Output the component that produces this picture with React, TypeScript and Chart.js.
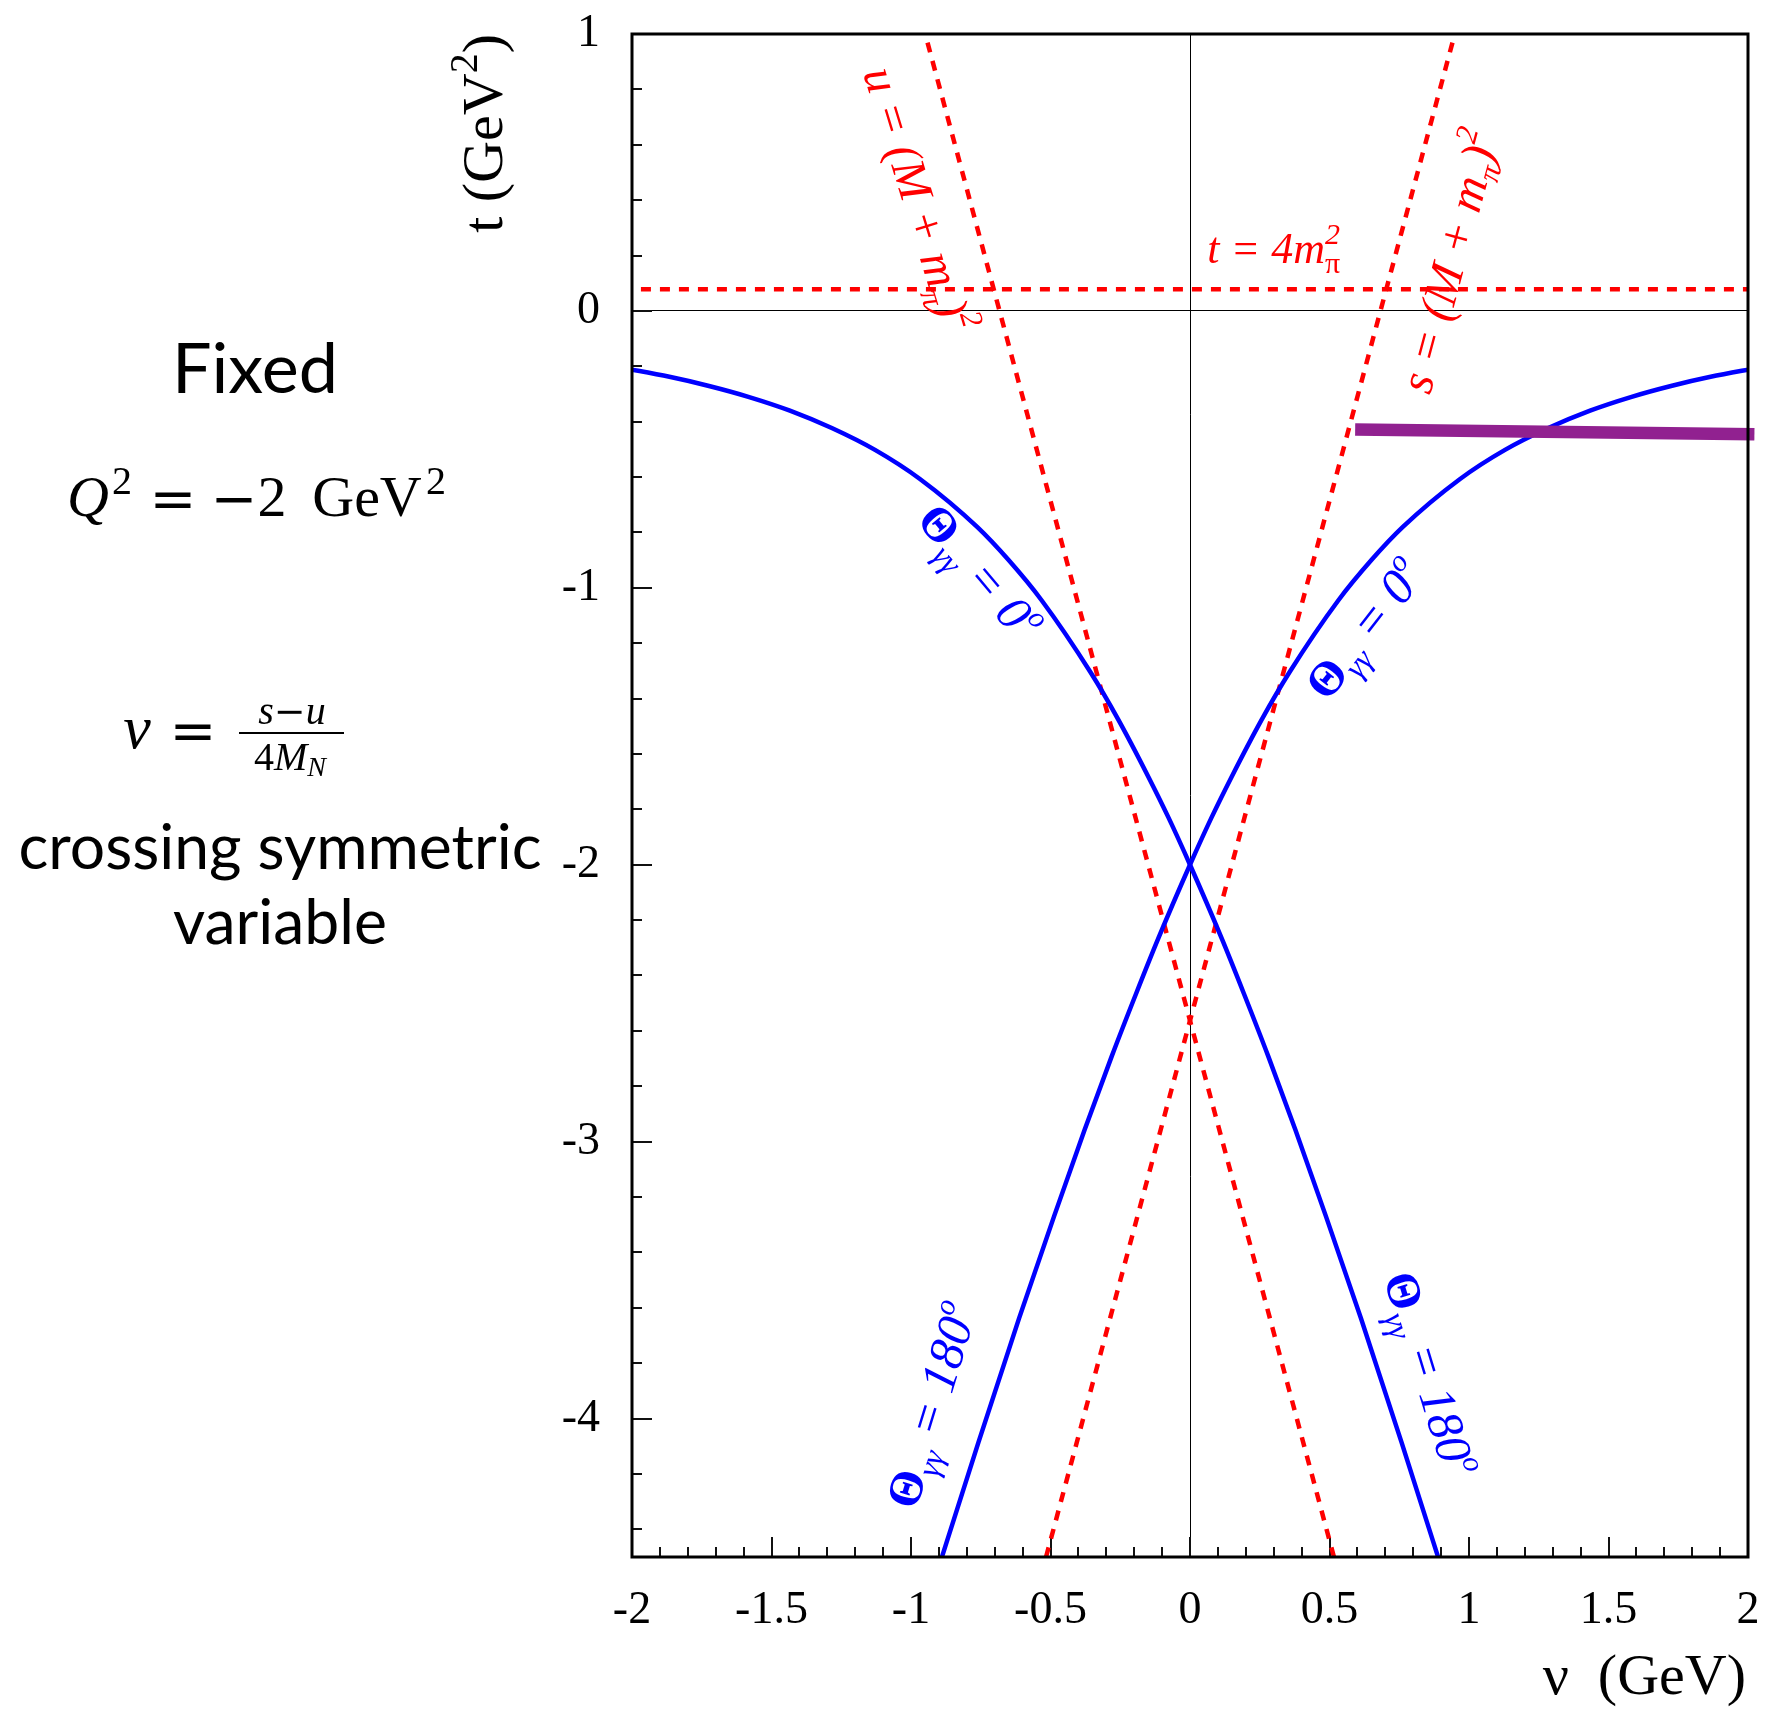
import { useEffect, useRef } from 'react';
import { Chart, registerables } from 'chart.js';

Chart.register(...registerables);

// ---------- data (ν in GeV, t in GeV²) ----------
// boundary curve running from lower-left to upper-right (Θγγ = 180° below, 0° above)
const curveA_nu = [-0.931, -0.758, -0.613, -0.487, -0.378, -0.281, -0.193, -0.114, 0, 0.077, 0.149, 0.257, 0.356, 0.532, 0.651, 0.762, 0.968, 1.129, 1.284, 1.434, 1.58, 1.724, 1.866, 2.034];
const curveA_t = [-4.633, -4.085, -3.639, -3.269, -2.958, -2.693, -2.465, -2.267, -2.0, -1.83, -1.683, -1.476, -1.306, -1.045, -0.899, -0.781, -0.607, -0.502, -0.423, -0.36, -0.311, -0.271, -0.238, -0.206];
// boundary curve running from upper-left to lower-right
const curveB_nu = [-2.034, -1.866, -1.724, -1.58, -1.434, -1.284, -1.129, -0.968, -0.762, -0.651, -0.532, -0.356, -0.257, -0.149, -0.077, 0, 0.114, 0.193, 0.281, 0.378, 0.487, 0.613, 0.758, 0.931];
const curveB_t = [-0.206, -0.238, -0.271, -0.311, -0.36, -0.423, -0.502, -0.607, -0.781, -0.899, -1.045, -1.306, -1.476, -1.683, -1.83, -2.0, -2.267, -2.465, -2.693, -2.958, -3.269, -3.639, -4.085, -4.633];
// thresholds
const sLine_nu = [-0.516, 0.949];
const sLine_t = [-4.5, 1.0];
const uLine_nu = [0.516, -0.949];
const uLine_t = [-4.5, 1.0];
const tThr_nu = [-1.968, 2.0];
const tThr_t = [0.078, 0.078];
// purple bar
const band_nu = [0.592, 2.023];
const band_t = [-0.428, -0.445];

// ticks
const xTickValues = [-2, -1.5, -1, -0.5, 0, 0.5, 1, 1.5, 2];
const xTickLabels = ['-2', '-1.5', '-1', '-0.5', '0', '0.5', '1', '1.5', '2'];
const yTickValues = [-4, -3, -2, -1, 0, 1];
const yTickLabels = ['-4', '-3', '-2', '-1', '0', '1'];

const xTitle = 'ν  (GeV)';

// ---------- styles ----------
const SERIF = "'Liberation Serif', 'Times New Roman', serif";
const WIDE = "'DejaVu Serif', serif";
const SANS = "Lato, 'Noto Sans', sans-serif";
const RED = '#ff0000';
const BLUE = '#0000ff';
const PURPLE = '#912190';

const pts = (xs: number[], ys: number[]) => xs.map((x, i) => ({ x, y: ys[i] }));

type Run = { t: string; f: string; dy?: number; adv?: boolean };

function drawRuns(
  ctx: CanvasRenderingContext2D,
  runs: Run[],
  x: number,
  y: number,
  angleDeg: number,
  align: 'left' | 'center' | 'right',
  color: string,
  baseShift = 0
) {
  ctx.save();
  ctx.translate(x, y);
  ctx.rotate((angleDeg * Math.PI) / 180);
  ctx.fillStyle = color;
  ctx.textAlign = 'left';
  ctx.textBaseline = 'alphabetic';
  const widths = runs.map((r) => {
    ctx.font = r.f;
    return ctx.measureText(r.t).width;
  });
  let total = 0;
  runs.forEach((r, i) => {
    if (r.adv !== false) total += widths[i];
  });
  let cx = align === 'left' ? 0 : align === 'center' ? -total / 2 : -total;
  runs.forEach((r, i) => {
    ctx.font = r.f;
    ctx.fillText(r.t, cx, baseShift + (r.dy || 0));
    if (r.adv !== false) cx += widths[i];
  });
  ctx.restore();
}

function fitText(ctx: CanvasRenderingContext2D, text: string, family: string, width: number) {
  ctx.font = `100px ${family}`;
  const w = ctx.measureText(text).width;
  return (100 * width) / w;
}

const thetaRuns = (val: string): Run[] => [
  { t: 'Θ', f: `bold 48px ${SERIF}` },
  { t: 'γγ', f: `italic 32px ${SERIF}`, dy: 11 },
  { t: ` = ${val}`, f: `italic 50px ${SERIF}` },
  { t: 'o', f: `italic 30px ${SERIF}`, dy: -22 },
];

const thresholdRuns = (lhs: string): Run[] => [
  { t: `${lhs} = (M + m`, f: `italic 48px ${SERIF}` },
  { t: 'π', f: `italic 31px ${SERIF}`, dy: 10 },
  { t: ')', f: `italic 48px ${SERIF}` },
  { t: '2', f: `italic 31px ${SERIF}`, dy: -22 },
];

const annotations = {
  id: 'annotations',
  beforeDatasetsDraw(chart: any) {
    const { ctx, chartArea: a, scales } = chart;
    const xs = scales.x;
    const ys = scales.y;
    ctx.save();
    ctx.strokeStyle = '#111';
    ctx.lineWidth = 2;
    ctx.beginPath();
    for (let k = -22; k <= 4; k++) {
      const py = Math.round(ys.getPixelForValue(k / 5));
      const len = k % 5 === 0 ? 20 : 10;
      ctx.moveTo(a.left, py);
      ctx.lineTo(a.left + len, py);
    }
    for (let k = -19; k <= 19; k++) {
      const px = Math.round(xs.getPixelForValue(k / 10));
      const len = k % 5 === 0 ? 20 : 10;
      ctx.moveTo(px, a.bottom);
      ctx.lineTo(px, a.bottom - len);
    }
    ctx.stroke();
    ctx.restore();
  },
  afterDatasetsDraw(chart: any) {
    const { ctx, chartArea: a, scales } = chart;
    const xs = scales.x;
    const ys = scales.y;
    const P = (nu: number, t: number) => [xs.getPixelForValue(nu), ys.getPixelForValue(t)];

    // frame
    ctx.save();
    ctx.strokeStyle = '#000';
    ctx.lineWidth = 3;
    ctx.strokeRect(a.left, a.top, a.right - a.left, a.bottom - a.top);
    ctx.restore();

    // curve labels
    let p = P(-0.758, -0.946);
    drawRuns(ctx, thetaRuns('0'), p[0], p[1], 50, 'center', BLUE, 15);
    p = P(0.629, -1.152);
    drawRuns(ctx, thetaRuns('0'), p[0], p[1], -52, 'center', BLUE, 15);
    p = P(-0.923, -3.953);
    drawRuns(ctx, thetaRuns('180'), p[0], p[1], -73, 'center', BLUE, 15);
    p = P(0.855, -3.841);
    drawRuns(ctx, thetaRuns('180'), p[0], p[1], 73, 'center', BLUE, 15);

    p = P(-0.98, 0.4);
    drawRuns(ctx, thresholdRuns('u'), p[0], p[1], 73, 'center', RED, 14);
    p = P(0.937, 0.177);
    drawRuns(ctx, thresholdRuns('s'), p[0], p[1], -75, 'center', RED, 14);
    p = P(0.062, 0.173);
    drawRuns(
      ctx,
      [
        { t: 't = 4m', f: `italic 44px ${SERIF}` },
        { t: '2', f: `italic 30px ${SERIF}`, dy: -19, adv: false },
        { t: 'π', f: `30px ${SERIF}`, dy: 10 },
      ],
      p[0],
      p[1],
      0,
      'left',
      RED
    );
  },
  afterDraw(chart: any) {
    const { ctx, chartArea: a } = chart;
    ctx.save();
    ctx.fillStyle = '#000';
    ctx.textBaseline = 'alphabetic';

    // axis titles
    ctx.textAlign = 'right';
    ctx.font = `58px ${SERIF}`;
    ctx.fillText(xTitle, a.right - 2, 1694);
    drawRuns(
      ctx,
      [
        { t: 't (GeV', f: `58px ${SERIF}` },
        { t: '2', f: `40px ${SERIF}`, dy: -25 },
        { t: ')', f: `58px ${SERIF}` },
      ],
      502,
      a.top,
      -90,
      'right',
      '#000'
    );

    // left text block
    ctx.textAlign = 'center';
    let s = fitText(ctx, 'Fixed', SANS, 166);
    ctx.font = `${s}px ${SANS}`;
    ctx.fillText('Fixed', 255, 393);

    const m = `58px ${SERIF}`;
    const mi = `italic 58px ${SERIF}`;
    const ops = `56px ${WIDE}`;
    const sup = `40px ${SERIF}`;
    // Q² = −2 GeV²
    ctx.font = mi;
    ctx.fillText('Q', 88, 516);
    ctx.font = sup;
    ctx.fillText('2', 122, 494);
    ctx.font = ops;
    ctx.fillText('=', 173, 518);
    ctx.fillText('−', 234, 518);
    ctx.font = m;
    ctx.fillText('2', 272, 516);
    ctx.fillText('GeV', 367, 516);
    ctx.font = sup;
    ctx.fillText('2', 436, 494);

    // ν = (s − u) / 4M_N
    ctx.font = `italic 62px ${SERIF}`;
    ctx.fillText('ν', 137, 748);
    ctx.font = ops;
    ctx.fillText('=', 193, 750);
    ctx.fillRect(239, 732, 105, 2);
    drawRuns(
      ctx,
      [
        { t: 's', f: `italic 40px ${SERIF}` },
        { t: '−', f: `38px ${WIDE}` },
        { t: 'u', f: `italic 40px ${SERIF}` },
      ],
      292,
      724,
      0,
      'center',
      '#000'
    );
    drawRuns(
      ctx,
      [
        { t: '4', f: `40px ${SERIF}` },
        { t: 'M', f: `italic 40px ${SERIF}` },
        { t: 'N', f: `italic 28px ${SERIF}`, dy: 6 },
      ],
      290,
      770,
      0,
      'center',
      '#000'
    );

    s = fitText(ctx, 'crossing symmetric', SANS, 523);
    ctx.font = `${s}px ${SANS}`;
    ctx.textAlign = 'center';
    ctx.fillText('crossing symmetric', 280, 869);
    ctx.fillText('variable', 280, 944);
    ctx.restore();
  },
};

export default function App() {
  const ref = useRef<HTMLCanvasElement | null>(null);

  useEffect(() => {
    document.body.style.margin = '0';
    const canvas = ref.current;
    if (!canvas) return;
    const zeroGrid = (c: any) => (c.tick && Math.abs(c.tick.value) < 1e-9 ? '#000' : 'rgba(0,0,0,0)');
    const chart = new Chart(canvas, {
      type: 'scatter',
      data: {
        datasets: [
          {
            data: pts(band_nu, band_t),
            showLine: true,
            borderColor: PURPLE,
            borderWidth: 12.5,
            pointRadius: 0,
            clip: false,
            borderCapStyle: 'butt',
          } as any,
          {
            data: pts(curveA_nu, curveA_t),
            showLine: true,
            borderColor: BLUE,
            borderWidth: 4.5,
            pointRadius: 0,
            cubicInterpolationMode: 'monotone',
          },
          {
            data: pts(curveB_nu, curveB_t),
            showLine: true,
            borderColor: BLUE,
            borderWidth: 4.5,
            pointRadius: 0,
            cubicInterpolationMode: 'monotone',
          },
          {
            data: pts(sLine_nu, sLine_t),
            showLine: true,
            borderColor: RED,
            borderWidth: 4.5,
            borderDash: [10, 9],
            pointRadius: 0,
          },
          {
            data: pts(uLine_nu, uLine_t),
            showLine: true,
            borderColor: RED,
            borderWidth: 4.5,
            borderDash: [10, 9],
            pointRadius: 0,
          },
          {
            data: pts(tThr_nu, tThr_t),
            showLine: true,
            borderColor: RED,
            borderWidth: 4.5,
            borderDash: [10, 9],
            pointRadius: 0,
          },
        ],
      },
      options: {
        responsive: false,
        devicePixelRatio: 1,
        animation: false,
        events: [],
        layout: { padding: { top: 34, right: 30, left: 0, bottom: 0 } },
        plugins: { legend: { display: false }, tooltip: { enabled: false } },
        scales: {
          x: {
            type: 'linear',
            min: -2,
            max: 2,
            afterBuildTicks: (sc: any) => {
              sc.ticks = xTickValues.map((v) => ({ value: v }));
            },
            afterFit: (sc: any) => {
              sc.height = 164;
              sc.paddingLeft = 0;
              sc.paddingRight = 0;
            },
            ticks: {
              callback: (_v: any, i: number) => xTickLabels[i],
              font: { family: SERIF, size: 46 },
              color: '#000',
              padding: 26,
              maxRotation: 0,
              autoSkip: false,
            },
            grid: { color: zeroGrid, lineWidth: 1, drawTicks: false },
            border: { display: false },
          },
          y: {
            type: 'linear',
            min: -4.5,
            max: 1,
            afterBuildTicks: (sc: any) => {
              sc.ticks = yTickValues.map((v) => ({ value: v }));
            },
            afterFit: (sc: any) => {
              sc.width = 632;
              sc.paddingTop = 0;
              sc.paddingBottom = 0;
            },
            ticks: {
              callback: (_v: any, i: number) => yTickLabels[i],
              font: { family: SERIF, size: 46 },
              color: '#000',
              padding: 32,
              autoSkip: false,
            },
            grid: { color: zeroGrid, lineWidth: 1, drawTicks: false },
            border: { display: false },
          },
        },
      },
      plugins: [annotations],
    });
    return () => chart.destroy();
  }, []);

  return <canvas ref={ref} width={1778} height={1721} style={{ display: 'block' }} />;
}
